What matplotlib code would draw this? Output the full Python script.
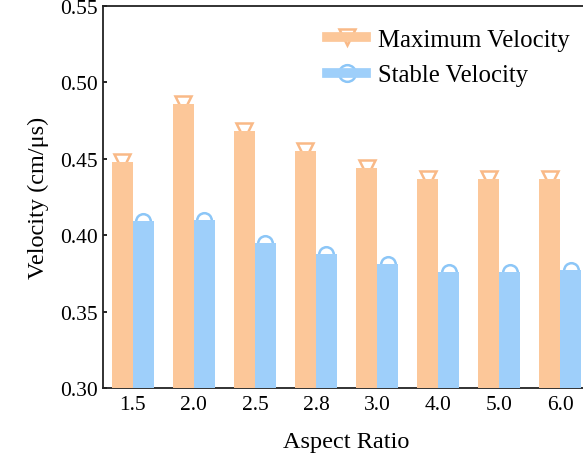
import matplotlib
matplotlib.use("Agg")
import matplotlib.pyplot as plt
import numpy as np
from matplotlib.lines import Line2D
from matplotlib.legend_handler import HandlerTuple

categories = ["1.5", "2.0", "2.5", "2.8", "3.0", "4.0", "5.0", "6.0"]
max_velocity = [0.448, 0.486, 0.468, 0.455, 0.444, 0.437, 0.437, 0.437]
stable_velocity = [0.409, 0.410, 0.395, 0.388, 0.381, 0.376, 0.376, 0.377]
yticks = [0.30, 0.35, 0.40, 0.45, 0.50, 0.55]

orange = "#FCC799"
blue = "#9ECFFA"
orange_edge = "#F9B987"
blue_edge = "#8CC6F7"

plt.rcParams['font.family'] = ['Liberation Serif', 'DejaVu Serif']

fig = plt.figure(figsize=(5.83, 4.60), dpi=100)
ax = fig.add_axes([103/583, 71/460, 487/583, 382/460])

x = np.arange(len(categories))
w = 0.344
ax.bar(x - w/2, max_velocity, width=w, color=orange, zorder=3)
ax.bar(x + w/2, stable_velocity, width=w, color=blue, zorder=3)
ax.plot(x - w/2, max_velocity, linestyle='none', marker='v', markersize=11,
        mfc='white', mec=orange_edge, mew=1.8, zorder=2)
ax.plot(x + w/2, stable_velocity, linestyle='none', marker='o', markersize=10.5,
        mfc='white', mec=blue_edge, mew=1.8, zorder=2)

ax.set_xlim(-0.49, len(categories) - 0.51)
ax.set_ylim(0.30, 0.55)
ax.set_yticks(yticks)
ax.set_yticklabels([f"{t:.2f}" for t in yticks])
ax.set_xticks(x)
ax.set_xticklabels(categories)
ax.tick_params(direction='in', length=3, width=1.2, labelsize=15.5, pad=4)
ax.tick_params(axis='x', pad=5)
for s in ax.spines.values():
    s.set_linewidth(1.3)
    s.set_color('#222222')

ax.set_ylabel("Velocity (cm/μs)", fontsize=17.5, labelpad=8)
ax.set_xlabel("Aspect Ratio", fontsize=17.5, labelpad=12)

h1 = (Line2D([], [], linestyle='none', marker='v', markersize=12, mfc='white', mec=orange_edge, mew=1.8),
      Line2D([], [], color=orange, lw=7))
h2 = (Line2D([], [], linestyle='none', marker='o', markersize=12, mfc='white', mec=blue_edge, mew=1.8),
      Line2D([], [], color=blue, lw=7))
leg = ax.legend([h1, h2], ["Maximum Velocity", "Stable Velocity"],
                handler_map={tuple: HandlerTuple(ndivide=1, pad=0)},
                loc='upper left', bbox_to_anchor=(0.414, 1.0), frameon=False,
                fontsize=17.8, handlelength=1.6, handletextpad=0.45, labelspacing=0.55)

fig.savefig("out.png", dpi=100)
